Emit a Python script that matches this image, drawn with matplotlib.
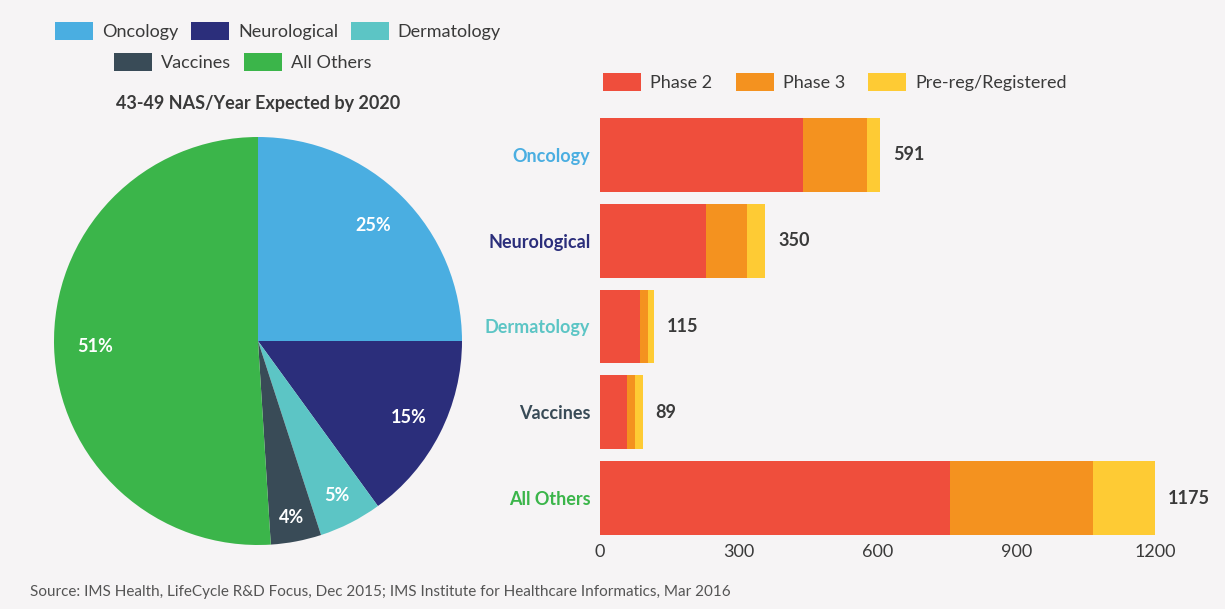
import matplotlib.pyplot as plt
import numpy as np
from matplotlib.patches import Patch

# pie data
pie_labels = ["Oncology", "Neurological", "Dermatology", "Vaccines", "All Others"]
pie_shares = [25, 15, 5, 4, 51]
pie_colors = ["#4aaee1", "#2b2e7b", "#5cc5c5", "#394b57", "#3bb54a"]

# bar data (segments, totals from the labels)
categories = ["Oncology", "Neurological", "Dermatology", "Vaccines", "All Others"]
phase2 = [438, 229, 86, 59, 756]
phase3 = [139, 88, 17, 17, 310]
prereg = [28, 40, 14, 16, 134]
totals = [591, 350, 115, 89, 1175]
phase_names = ["Phase 2", "Phase 3", "Pre-reg/Registered"]
phase_colors = ["#ef4e3c", "#f4921f", "#fecb34"]
xticks = [0, 300, 600, 900, 1200]

BG = "#f6f4f5"
TXT = "#3a3a3a"
FS = 13

plt.rcParams["font.family"] = ["Lato", "DejaVu Sans"]

fig = plt.figure(figsize=(12.25, 6.09), dpi=100, facecolor=BG)

# ---- pie ----
ax_pie = fig.add_axes([54 / 1225, 1 - 545 / 609, 408 / 1225, 408 / 609])
ax_pie.set_facecolor(BG)
wedges, _ = ax_pie.pie(pie_shares, colors=pie_colors, startangle=90,
                       counterclock=False, wedgeprops=dict(linewidth=0))
dists = [0.8, 0.83, 0.85, 0.88, 0.8]
for w, share, d in zip(wedges, pie_shares, dists):
    ang = np.deg2rad((w.theta1 + w.theta2) / 2)
    ax_pie.text(d * np.cos(ang), d * np.sin(ang), f"{share}%", color="white",
                fontsize=FS, fontweight="bold", ha="center", va="center")
ax_pie.set_xlim(-1, 1)
ax_pie.set_ylim(-1, 1)
ax_pie.set_aspect("equal")
ax_pie.axis("off")

fig.text(258 / 1225, 1 - 104 / 609, "43-49 NAS/Year Expected by 2020",
         ha="center", va="center", fontsize=FS, fontweight="bold", color=TXT)

h1 = [Patch(facecolor=c) for c in pie_colors[:3]]
h2 = [Patch(facecolor=c) for c in pie_colors[3:]]
leg_kw = dict(frameon=False, handlelength=2.1, handleheight=1.2,
              handletextpad=0.5, columnspacing=0.7, fontsize=FS,
              labelcolor=TXT, loc="center", borderpad=0)
fig.legend(h1, pie_labels[:3], ncol=3, bbox_to_anchor=(278 / 1225, 1 - 31 / 609), **leg_kw)
fig.legend(h2, pie_labels[3:], ncol=2, bbox_to_anchor=(243 / 1225, 1 - 62 / 609), **leg_kw)

# ---- stacked bars ----
ax = fig.add_axes([600 / 1225, 1 - 541 / 609, 555 / 1225, 429 / 609])
ax.set_facecolor(BG)
y = np.arange(len(categories))
left = np.zeros(len(categories))
for vals, col, name in zip([phase2, phase3, prereg], phase_colors, phase_names):
    ax.barh(y, vals, left=left, height=0.86, color=col, label=name)
    left += np.array(vals)
for yi, end, tot in zip(y, left, totals):
    ax.text(end + 28, yi, str(tot), va="center", ha="left", fontsize=FS,
            fontweight="bold", color=TXT)
ax.set_xlim(0, 1200)
ax.set_ylim(4.5, -0.5)
ax.set_yticks(y)
ax.set_yticklabels(categories, fontsize=FS, fontweight="bold")
for lbl, col in zip(ax.get_yticklabels(), pie_colors):
    lbl.set_color(col)
ax.set_xticks(xticks)
ax.set_xticklabels([str(t) for t in xticks], fontsize=FS, color=TXT)
ax.tick_params(axis="x", length=0, pad=2)
ax.tick_params(axis="y", length=0, pad=7)
for s in ax.spines.values():
    s.set_visible(False)

ph = [Patch(facecolor=c) for c in phase_colors]
fig.legend(ph, phase_names, ncol=3, frameon=False, handlelength=2.1,
           handleheight=1.2, handletextpad=0.5, columnspacing=1.3,
           fontsize=FS, labelcolor=TXT, loc="center", borderpad=0,
           bbox_to_anchor=(835 / 1225, 1 - 82 / 609))

fig.text(30 / 1225, 1 - 592 / 609,
         "Source: IMS Health, LifeCycle R&D Focus, Dec 2015; IMS Institute for Healthcare Informatics, Mar 2016",
         ha="left", va="center", fontsize=11, color="#555555")

fig.savefig("out.png", dpi=100, facecolor=BG)
